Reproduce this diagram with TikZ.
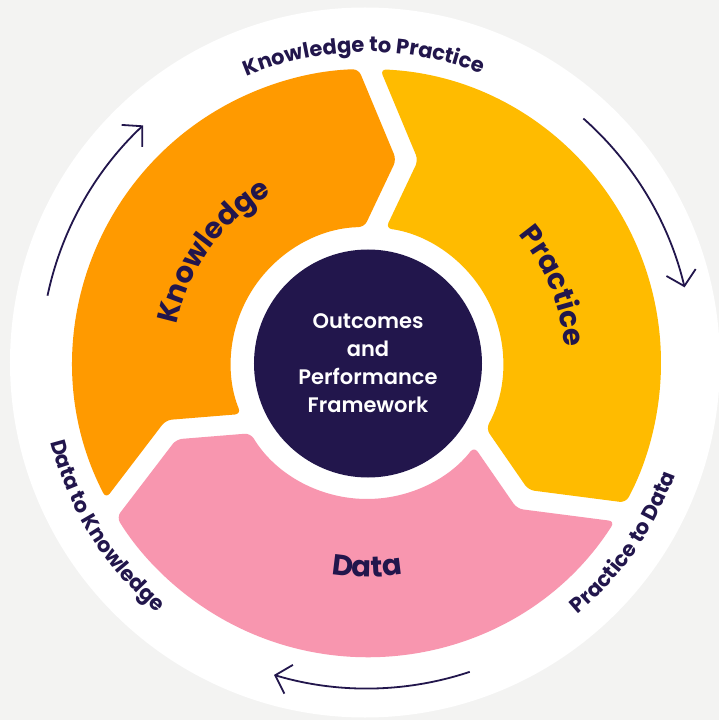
\documentclass[tikz,border=0pt]{standalone}
\usepackage{fontspec}
\setmainfont{Poppins}
\IfFontExistsTF{Poppins Medium}{\newfontfamily\midfont{Poppins Medium}}{\newfontfamily\midfont{Poppins}}
\IfFontExistsTF{Poppins SemiBold}{\newfontfamily\semifont{Poppins SemiBold}}{\let\semifont\midfont}
\IfFontExistsTF{Poppins Bold}{\newfontfamily\boldfont{Poppins Bold}}{\let\boldfont\semifont}
\usetikzlibrary{arrows.meta,decorations.text}
\definecolor{bg}{HTML}{F3F3F2}
\definecolor{navy}{HTML}{22164C}
\definecolor{korange}{HTML}{FF9A00}
\definecolor{pyellow}{HTML}{FFBB00}
\definecolor{dpink}{HTML}{F896AF}
\newcommand\ringlab{\boldfont\fontsize{21}{21}\selectfont\color{navy}}
\newcommand\seglab{\boldfont\fontsize{29}{29}\selectfont\color{navy}}
\tikzset{
  flowarrow/.style={draw=navy, line width=1.8pt, -{Straight Barb[length=14pt,width=30pt]}},
  segfill/.style={rounded corners=6pt},
}
\begin{document}
\begin{tikzpicture}[x=1pt,y=1pt]
\useasboundingbox (-367,-357) rectangle (352,363);
\fill[bg] (-367,-357) rectangle (352,363);
\fill[white] (-2,0.5) circle[radius=355];
% segments
\foreach \ph/\col in {0/korange,-120/pyellow,120/dpink}{
  \fill[\col, segfill, rotate=\ph] (207.42:294) arc[start angle=207.42,end angle=91.65,radius=294]
    -- (81.81:205.4) -- (91.12:136) arc[start angle=91.12,end angle=202.03,radius=136]
    -- (195.85:209.15) -- cycle;
}
% centre
\node[circle, fill=navy, minimum size=228pt, inner sep=0pt, text=white, align=center,
      font=\semifont\fontsize{21}{28}\selectfont] (core) at (1,-0.5)
      {Outcomes\\and\\Performance\\Framework};
% arrows
\coordinate (kstart) at (168.1:326.5);
\draw[flowarrow] (kstart) arc[start angle=168.1,end angle=133.3,radius=326.5];
\coordinate (pstart) at (48.5:326.5);
\draw[flowarrow] (pstart) arc[start angle=48.5,end angle=13.4,radius=326.5];
\coordinate (dstart) at (-71.6:325.5);
\draw[flowarrow] (dstart) arc[start angle=-71.6,end angle=-106.6,radius=325.5];
% ring labels
\path[decorate, decoration={text along path, text align=center, text={|\ringlab|Knowledge to Practice}}]
  (140.5:311) arc[start angle=140.5,end angle=40.5,radius=311];
\path[decorate, decoration={text along path, text align=center, text={|\ringlab|Data to Knowledge}}]
  (162:326) arc[start angle=162,end angle=262,radius=326];
\path[decorate, decoration={text along path, text align=center, text={|\ringlab|Practice to Data}}]
  (-85:328) arc[start angle=-85,end angle=15,radius=328];
% segment labels
\path[decorate, decoration={text along path, text align=center, text={|\seglab|Knowledge}}]
  (204:194) arc[start angle=204,end angle=84,radius=194];
\path[decorate, decoration={text along path, text align=center, text={|\seglab|Practice}}]
  (82.4:198) arc[start angle=82.4,end angle=-37.6,radius=198];
\path[decorate, decoration={text along path, text align=center, text={|\seglab|Data}}]
  (210:214) arc[start angle=210,end angle=330,radius=214];
\end{tikzpicture}
\end{document}
